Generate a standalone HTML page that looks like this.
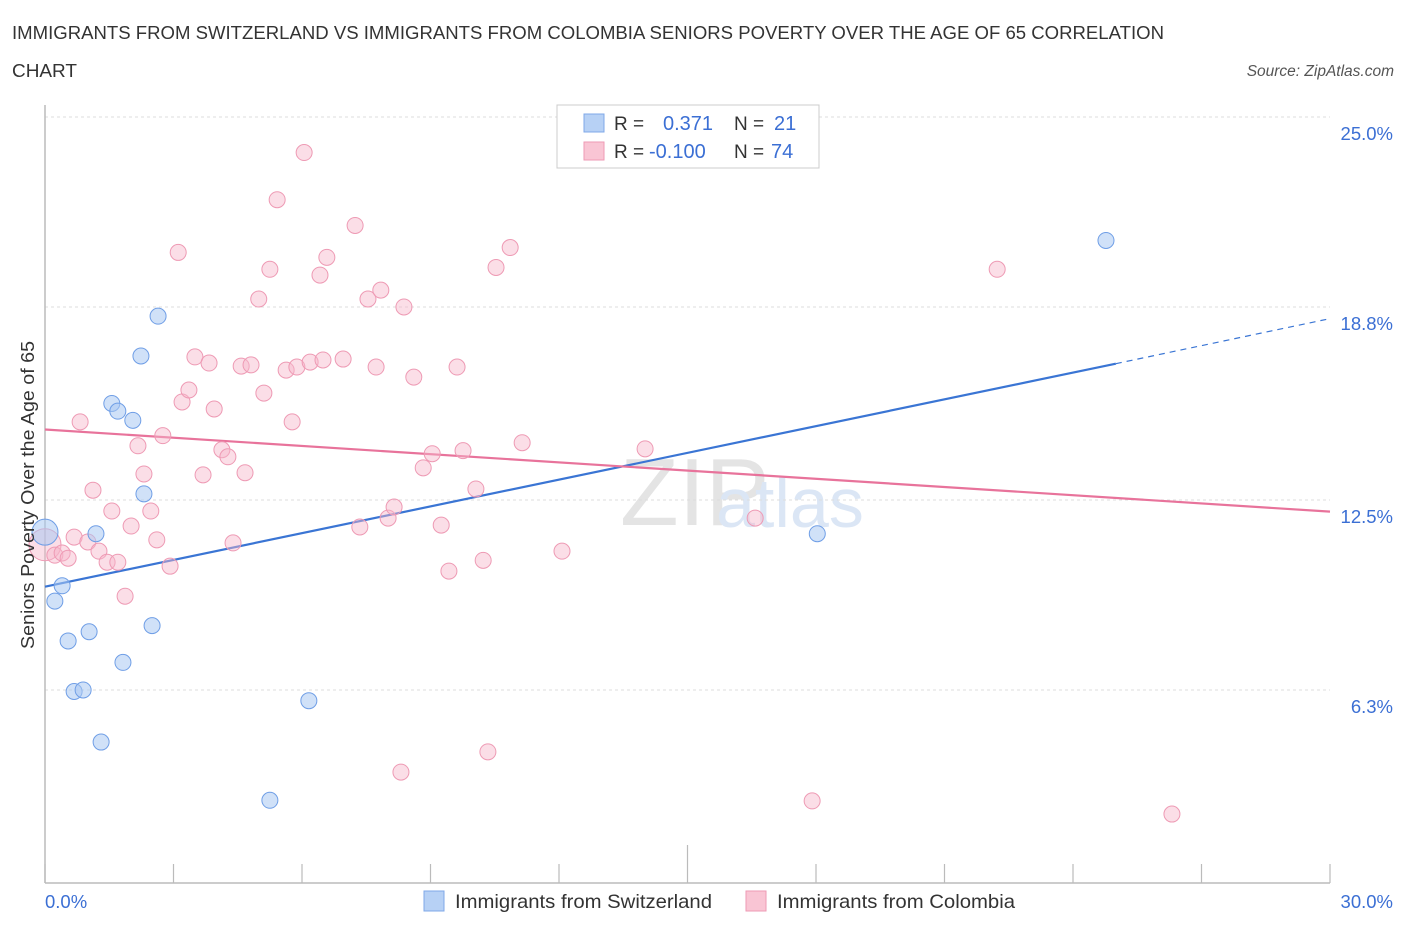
<!DOCTYPE html>
<html><head><meta charset="utf-8"><style>
body{margin:0;background:#fff;font-family:"Liberation Sans",sans-serif;}
svg text{font-family:"Liberation Sans",sans-serif;}
</style></head><body>
<svg id="chart" width="1406" height="930">
<text x="12" y="39" font-size="18" fill="#333" textLength="1152" lengthAdjust="spacingAndGlyphs">IMMIGRANTS FROM SWITZERLAND VS IMMIGRANTS FROM COLOMBIA SENIORS POVERTY OVER THE AGE OF 65 CORRELATION</text>
<text x="12" y="77" font-size="18" fill="#333" textLength="65" lengthAdjust="spacingAndGlyphs">CHART</text>
<text x="1394" y="76" font-size="15.5" fill="#555" font-style="italic" text-anchor="end">Source: ZipAtlas.com</text>
<text x="620" y="525" font-size="96" fill="#e4e4e4" font-family="Liberation Serif">ZIP</text>
<text x="716" y="527" font-size="70" fill="#dbe6f5">atlas</text>
<g id="grid"></g>
<g id="axes"></g>
<g id="lines"></g>
<g id="pts"></g>
<text transform="translate(34,495) rotate(-90)" font-size="18" fill="#333" text-anchor="middle" textLength="308" lengthAdjust="spacingAndGlyphs">Seniors Poverty Over the Age of 65</text>
<text x="45" y="908" font-size="18.5" fill="#3b6fd4">0.0%</text>
<text x="1393" y="908" font-size="18.5" fill="#3b6fd4" text-anchor="end">30.0%</text>
<g>
<rect x="557" y="105" width="262" height="63" fill="#fff" stroke="#ccc"/>
<rect x="584" y="114" width="20" height="18" fill="#b7d1f5" stroke="#7fa8e8"/>
<rect x="584" y="142" width="20" height="18" fill="#f9c5d4" stroke="#ee9ab4"/>
<text x="614" y="130" font-size="19" fill="#333">R =</text>
<text x="663" y="130" font-size="20" fill="#3b6fd4">0.371</text>
<text x="734" y="130" font-size="19" fill="#333">N =</text>
<text x="774" y="130" font-size="20" fill="#3b6fd4">21</text>
<text x="614" y="158" font-size="19" fill="#333">R =</text>
<text x="649" y="158" font-size="20" fill="#3b6fd4">-0.100</text>
<text x="734" y="158" font-size="19" fill="#333">N =</text>
<text x="771" y="158" font-size="20" fill="#3b6fd4">74</text>
</g>
<g>
<rect x="424" y="891" width="20" height="20" fill="#b7d1f5" stroke="#7fa8e8"/>
<text x="455" y="908" font-size="19.5" fill="#333" textLength="257" lengthAdjust="spacingAndGlyphs">Immigrants from Switzerland</text>
<rect x="746" y="891" width="20" height="20" fill="#f9c5d4" stroke="#ee9ab4"/>
<text x="777" y="908" font-size="19.5" fill="#333" textLength="238" lengthAdjust="spacingAndGlyphs">Immigrants from Colombia</text>
</g>
</svg>
<script>
const yTicks=[25.0,18.8,12.5,6.3];
const yTickLabels=["25.0%","18.8%","12.5%","6.3%"];
const xTicks=[0,3,6,9,12,15,18,21,24,27,30];
const swissX=[0,0.23,0.4,0.54,0.68,0.89,1.03,1.19,1.31,1.56,1.7,1.82,2.05,2.24,2.31,2.5,2.64,5.25,6.16,18.03,24.77];
const swissY=[11.45,9.2,9.7,7.9,6.25,6.3,8.2,11.4,4.6,15.65,15.4,7.2,15.1,17.2,12.7,8.4,18.5,2.7,5.95,11.4,20.97];
const swissR=[14,9,9,9,9,9,9,9,9,9,9,9,9,9,9,9,9,9,9,9,9];
const colX=[0,0.23,0.4,0.54,0.68,0.82,1.0,1.12,1.26,1.45,1.56,1.7,1.87,2.01,2.17,2.31,2.47,2.61,2.75,2.92,3.11,3.2,3.36,3.5,3.69,3.83,3.95,4.13,4.27,4.39,4.58,4.67,4.81,4.99,5.11,5.25,5.42,5.77,5.63,5.88,6.05,6.19,6.42,6.49,6.58,6.96,7.24,7.35,7.54,7.73,7.84,8.01,8.15,8.31,8.38,8.61,8.83,9.04,9.25,9.43,9.62,9.76,10.06,10.23,10.34,10.53,10.86,11.14,12.07,14.01,16.58,17.91,22.23,26.31];
const colY=[11.04,10.7,10.77,10.6,11.29,15.05,11.13,12.82,10.83,10.47,12.14,10.47,9.36,11.65,14.27,13.35,12.14,11.2,14.6,10.34,20.58,15.7,16.09,17.17,13.32,16.97,15.47,14.14,13.91,11.1,16.87,13.39,16.91,19.06,15.99,20.03,22.3,15.05,16.74,16.84,23.84,17.0,19.84,17.07,20.42,17.1,21.46,11.62,19.06,16.84,19.35,11.91,12.27,3.62,18.8,16.51,13.55,14.01,11.68,10.18,16.84,14.11,12.86,10.53,4.28,20.09,20.74,14.37,10.83,14.17,11.91,2.68,20.03,2.25];
const trendSwiss=[[0,9.67],[25,16.95],[30,18.42]];
const trendCol=[[0,14.8],[30,12.12]];
const X0=45,X1=1330,Yt=117,Yb=883,Ymax=25;
function sx(v){return X0+(X1-X0)*v/30;}
function sy(v){return Yb-(Yb-Yt)*v/Ymax;}
const NS="http://www.w3.org/2000/svg";
function mk(tag,attrs,parent){const e=document.createElementNS(NS,tag);for(const k in attrs)e.setAttribute(k,attrs[k]);document.getElementById(parent).appendChild(e);return e;}
yTicks.forEach((t,i)=>{
 const l=mk('line',{x1:X0,x2:X1,y1:sy(t),y2:sy(t),stroke:'#ddd','stroke-dasharray':'3,3'},'grid');
 
 
 const tx=mk('text',{x:1393,y:sy(t)+23,'font-size':18.5,fill:'#3b6fd4','text-anchor':'end'},'grid');
 tx.textContent=yTickLabels[i];
 
 
});
const topg=mk('line',{x1:X0,x2:X1,y1:Yt,y2:Yt,stroke:'#ddd','stroke-dasharray':'3,3'},'grid');


const ya=mk('line',{x1:X0,x2:X0,y1:105,y2:Yb,stroke:'#bbb','stroke-width':1.5},'axes');


const xa=mk('line',{x1:X0,x2:X1,y1:Yb,y2:Yb,stroke:'#bbb','stroke-width':1.5},'axes');


xTicks.forEach(t=>{
 const tk=mk('line',{x1:sx(t),x2:sx(t),y1:(t==15?845:864),y2:Yb,stroke:'#bbb','stroke-width':1.2},'axes');
 
 
});
const b1=mk('line',{x1:sx(trendSwiss[0][0]),y1:sy(trendSwiss[0][1]),x2:sx(trendSwiss[1][0]),y2:sy(trendSwiss[1][1]),stroke:'#3a75d4','stroke-width':2.2},'lines');


const b2=mk('line',{x1:sx(trendSwiss[1][0]),y1:sy(trendSwiss[1][1]),x2:sx(trendSwiss[2][0]),y2:sy(trendSwiss[2][1]),stroke:'#3a75d4','stroke-width':1.2,'stroke-dasharray':'6,5'},'lines');


const p1=mk('line',{x1:sx(trendCol[0][0]),y1:sy(trendCol[0][1]),x2:sx(trendCol[1][0]),y2:sy(trendCol[1][1]),stroke:'#e8739b','stroke-width':2.2},'lines');


colX.forEach((x,i)=>{
 const c=mk('circle',{cx:sx(x),cy:sy(colY[i]),r:(i==0?16:8),fill:'rgba(246,182,201,0.45)',stroke:'#ee9ab4','stroke-width':1},'pts');
 
 
});
swissX.forEach((x,i)=>{
 const c=mk('circle',{cx:sx(x),cy:sy(swissY[i]),r:swissR[i]-1,fill:'rgba(170,200,243,0.55)',stroke:'#6f9ee6','stroke-width':1},'pts');
 
 
});
</script>
</body></html>
